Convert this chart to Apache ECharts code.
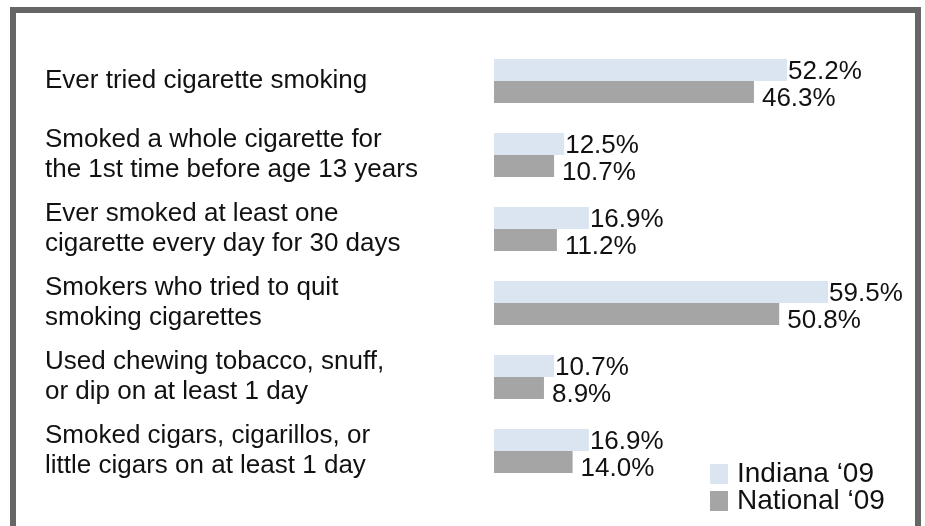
<!DOCTYPE html>
<html>
<head>
<meta charset="utf-8">
<script src="https://cdn.jsdelivr.net/npm/echarts@6/dist/echarts.min.js"></script>
<style>
html,body{margin:0;padding:0;background:#fff;}
#chart{width:925px;height:526px;}
</style>
</head>
<body>
<div id="chart"></div>
<script>
const categories = [
  "Ever tried cigarette smoking",
  "Smoked a whole cigarette for\nthe 1st time before age 13 years",
  "Ever smoked at least one\ncigarette every day for 30 days",
  "Smokers who tried to quit\nsmoking cigarettes",
  "Used chewing tobacco, snuff,\nor dip on at least 1 day",
  "Smoked cigars, cigarillos, or\nlittle cigars on at least 1 day"
];
const indiana = [52.2, 12.5, 16.9, 59.5, 10.7, 16.9];
const national = [46.3, 10.7, 11.2, 50.8, 8.9, 14.0];
const seriesNames = ["Indiana \u201809", "National \u201809"];

const FONT = "'Liberation Sans', Arial, sans-serif";
const chart = echarts.init(document.getElementById('chart'), null, {renderer: 'canvas'});
chart.setOption({
  backgroundColor: '#fff',
  animation: false,
  graphic: [{
    type: 'rect',
    shape: {x: 13, y: 10, width: 905, height: 540},
    style: {fill: 'none', stroke: '#666666', lineWidth: 6},
    silent: true
  }],
  legend: {
    orient: 'vertical',
    left: 705,
    top: 455,
    itemWidth: 18,
    itemHeight: 20,
    itemGap: -1,
    icon: 'rect',
    textStyle: {fontFamily: FONT, fontSize: 28, lineHeight: 24, color: '#111', padding: [0, 0, 0, 4]},
    data: seriesNames
  },
  grid: {left: 494, top: 44, height: 444, width: 393, containLabel: false},
  xAxis: {
    type: 'value', min: 0, max: 70, show: false
  },
  yAxis: {
    type: 'category',
    inverse: true,
    data: categories,
    axisLine: {show: false},
    axisTick: {show: false},
    axisLabel: {
      align: 'left',
      margin: 449,
      fontFamily: FONT,
      fontSize: 26,
      lineHeight: 30,
      color: '#111',
      verticalAlign: 'middle'
    }
  },
  series: [{
    name: seriesNames[0],
    type: 'bar',
    data: indiana,
    barWidth: 22,
    barGap: '0%',
    itemStyle: {color: '#dbe5f1'},
    label: {
      show: true, position: 'right', distance: 1, offset: [0, 2],
      formatter: p => p.value.toFixed(1) + '%',
      fontFamily: FONT, fontSize: 26, color: '#111'
    }
  }, {
    name: seriesNames[1],
    type: 'bar',
    data: national,
    barWidth: 22,
    itemStyle: {color: '#a5a5a5'},
    label: {
      show: true, position: 'right', distance: 8, offset: [0, 7],
      formatter: p => p.value.toFixed(1) + '%',
      fontFamily: FONT, fontSize: 26, color: '#111'
    }
  }]
});
</script>
</body>
</html>
